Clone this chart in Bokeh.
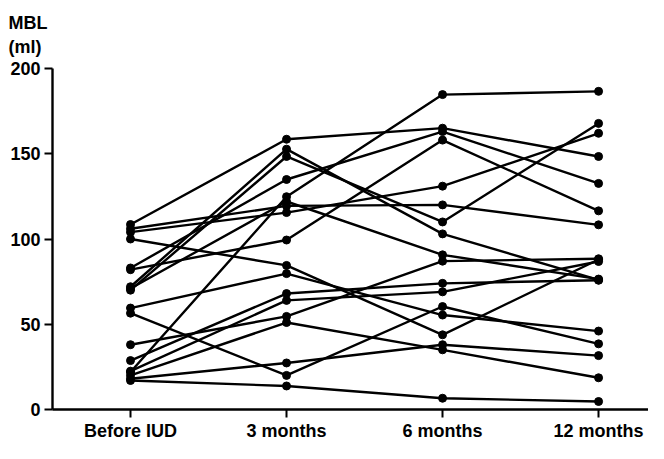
from bokeh.plotting import figure
from bokeh.models import Range1d, FixedTicker, Title
from bokeh.embed import file_html
from bokeh.resources import INLINE

time_labels = ["Before IUD", "3 months", "6 months", "12 months"]
y_ticks = [0, 50, 100, 150, 200]

# MBL (ml) per subject at each time point
before   = [22, 108.5, 83, 82, 104, 106, 70, 72, 71, 38, 28.7, 22.5, 56.5, 59.5, 100, 18, 20, 17]
month3   = [124.8, 158.5, 134.9, 99.4, 115.5, 119.4, 148.4, 152.7, 122, 54.6, 68, 64, 20, 79.7, 84.5, 27.3, 51, 13.8]
month6   = [184.7, 165, 163, 158, 131, 120, 110, 103, 90.7, 87, 74, 69, 60.4, 55.4, 43.8, 38, 35, 6.6]
month12  = [186.6, 148.4, 132.6, 116.5, 162, 108.3, 167.8, 76, 76.5, 88.4, 75.8, 86.8, 38.5, 46, 88, 31.6, 18.6, 4.7]

xpos = list(range(len(time_labels)))
xs, ys = [], []
for i in range(len(before)):
    xs.append(xpos)
    ys.append([before[i], month3[i], month6[i], month12[i]])

p = figure(width=648, height=443, output_backend="svg", toolbar_location=None,
           x_range=Range1d(-0.5, 3.32), y_range=Range1d(0, 200),
           min_border_left=52, min_border_right=0, min_border_top=68, min_border_bottom=31)
p.xgrid.visible = False
p.ygrid.visible = False
p.outline_line_color = None
p.background_fill_color = "white"
p.border_fill_color = "white"

p.multi_line(xs, ys, line_color="black", line_width=2.4)
flat_x = [x for row in xs for x in row]
flat_y = [y for row in ys for y in row]
p.scatter(flat_x, flat_y, size=8, color="black")

font = "Liberation Sans"
p.xaxis.ticker = FixedTicker(ticks=xpos)
p.xaxis.major_label_overrides = {i: t for i, t in enumerate(time_labels)}
p.yaxis.ticker = FixedTicker(ticks=y_ticks)
for ax in (p.xaxis[0], p.yaxis[0]):
    ax.axis_line_width = 2.4
    ax.axis_line_color = "black"
    ax.major_tick_line_width = 2
    ax.major_tick_line_color = "black"
    ax.major_tick_in = 0
    ax.major_tick_out = 8
    ax.minor_tick_line_color = None
    ax.major_label_text_font = font
    ax.major_label_text_font_style = "bold"
    ax.major_label_text_font_size = "18px"
    ax.major_label_text_color = "black"
p.xaxis.major_label_standoff = 3
p.yaxis.major_label_standoff = 4

p.title.visible = False
p.add_layout(Title(text="MBL\n(ml)", text_font=font, text_font_style="bold", text_font_size="18px",
                   text_color="black", text_line_height=1.2, align="left", offset=-44,
                   standoff=20, vertical_align="top"), "above")

open("out.html", "w").write(file_html(p, INLINE))
